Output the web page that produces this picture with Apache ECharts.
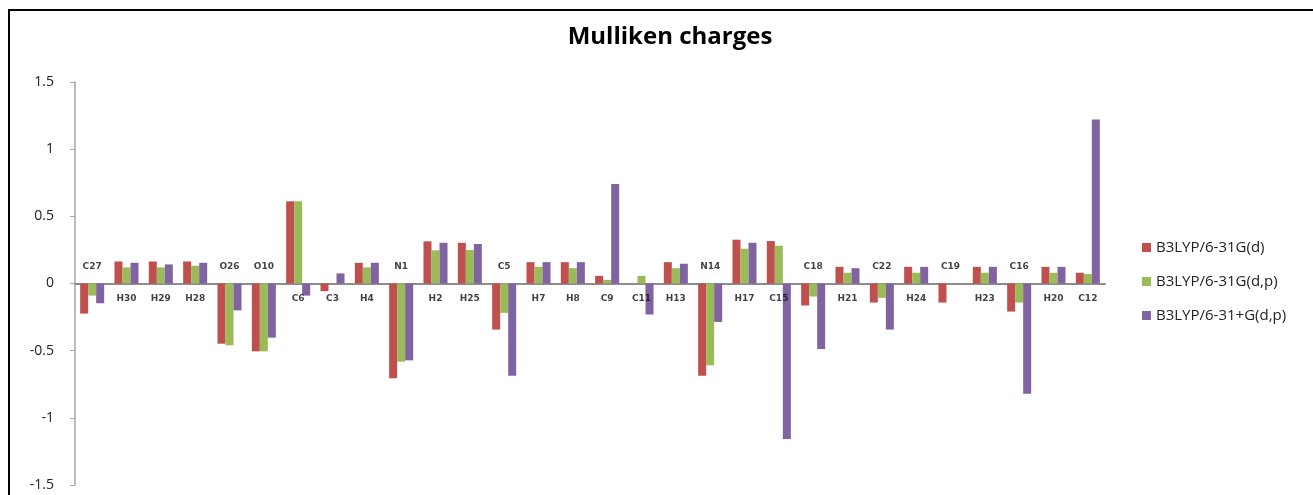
<!DOCTYPE html>
<html>
<head>
<meta charset="utf-8">
<title>Mulliken charges</title>
<script src="https://cdn.jsdelivr.net/npm/echarts@6/dist/echarts.min.js"></script>
<style>
    html, body { margin: 0; padding: 0; background: #fff; }
    #chart { width: 1313px; height: 495px; }
</style>
</head>
<body>
<div id="chart"></div>
<script>
// Atoms, in the order they appear on the x axis
const atoms = ['C27', 'H30', 'H29', 'H28', 'O26', 'O10', 'C6', 'C3', 'H4', 'N1',
    'H2', 'H25', 'C5', 'H7', 'H8', 'C9', 'C11', 'H13', 'N14', 'H17',
    'C15', 'C18', 'H21', 'C22', 'H24', 'C19', 'H23', 'C16', 'H20', 'C12'];

const seriesNames = ['B3LYP/6-31G(d)', 'B3LYP/6-31G(d,p)', 'B3LYP/6-31+G(d,p)'];

// Charges
const b3lyp631Gd = [-0.224, 0.164, 0.164, 0.164, -0.448, -0.505, 0.612, -0.057, 0.154, -0.706,
    0.314, 0.303, -0.343, 0.159, 0.159, 0.057, 0.0, 0.159, -0.687, 0.326,
    0.316, -0.164, 0.124, -0.142, 0.124, -0.142, 0.124, -0.209, 0.124, 0.080];
const b3lyp631Gdp = [-0.090, 0.120, 0.120, 0.132, -0.460, -0.505, 0.612, 0.0, 0.120, -0.582,
    0.247, 0.249, -0.219, 0.124, 0.114, 0.027, 0.057, 0.114, -0.609, 0.259,
    0.281, -0.097, 0.080, -0.107, 0.080, 0.0, 0.080, -0.142, 0.080, 0.070];
const b3lyp631pGdp = [-0.147, 0.154, 0.142, 0.154, -0.200, -0.403, -0.090, 0.075, 0.154, -0.572,
    0.303, 0.294, -0.687, 0.159, 0.159, 0.741, -0.231, 0.147, -0.286, 0.303,
    -1.157, -0.488, 0.114, -0.343, 0.124, 0.0, 0.124, -0.821, 0.124, 1.221];

// Which atom labels sit above the zero line
const labelAbove = ['C27', 'O26', 'O10', 'N1', 'C5', 'N14', 'C18', 'C22', 'C19', 'C16'];

const colors = ['#c0504d', '#9bbb59', '#8064a2'];

const chart = echarts.init(document.getElementById('chart'));

const barSeries = [b3lyp631Gd, b3lyp631Gdp, b3lyp631pGdp].map((vals, i) => ({
    name: seriesNames[i],
    type: 'bar',
    data: vals,
    barGap: '0%',
    barCategoryGap: '30%',
    itemStyle: { color: colors[i] }
}));

// atom names drawn at y = 0, above or below the axis
const labelSeries = {
    name: 'atoms',
    type: 'scatter',
    symbolSize: 0,
    silent: true,
    data: atoms.map((a, i) => ({
        value: [i, 0],
        label: {
            show: true,
            position: labelAbove.includes(a) ? 'top' : 'bottom',
            distance: labelAbove.includes(a) ? 12 : 11,
            formatter: a,
            fontSize: 9,
            fontWeight: 'bold',
            color: '#111',
            fontFamily: 'DejaVu Sans'
        }
    })),
    z: 5
};

chart.setOption({
    backgroundColor: '#fff',
    animation: false,
    title: {
        text: 'Mulliken charges',
        left: 665,
        top: 20,
        textAlign: 'center',
        textStyle: {
            fontFamily: 'Open Sans',
            fontSize: 24,
            fontWeight: 'bold',
            color: '#000'
        }
    },
    legend: {
        data: seriesNames,
        orient: 'vertical',
        left: 1137,
        top: 235,
        itemGap: 19,
        itemWidth: 9,
        itemHeight: 9,
        icon: 'rect',
        textStyle: {
            fontFamily: 'Open Sans',
            fontSize: 15,
            color: '#222'
        }
    },
    grid: {
        left: 75,
        right: 208,
        top: 82,
        bottom: 10
    },
    xAxis: {
        type: 'category',
        data: atoms,
        axisLine: { onZero: true, lineStyle: { color: '#8c8c8c', width: 2 } },
        axisTick: { show: false },
        axisLabel: { show: false }
    },
    yAxis: {
        type: 'value',
        min: -1.5,
        max: 1.5,
        interval: 0.5,
        axisLine: { show: true, lineStyle: { color: '#a6a6a6', width: 1.5 } },
        axisTick: { show: true, length: 5, lineStyle: { color: '#a6a6a6' } },
        splitLine: { show: false },
        axisLabel: {
            fontFamily: 'Open Sans',
            fontSize: 14,
            color: '#222',
            margin: 21
        }
    },
    graphic: [{
        type: 'rect',
        shape: { x: 9, y: 10, width: 1320, height: 500 },
        style: { fill: 'none', stroke: '#000', lineWidth: 2 },
        silent: true
    }],
    series: [...barSeries, labelSeries]
});
</script>
</body>
</html>
